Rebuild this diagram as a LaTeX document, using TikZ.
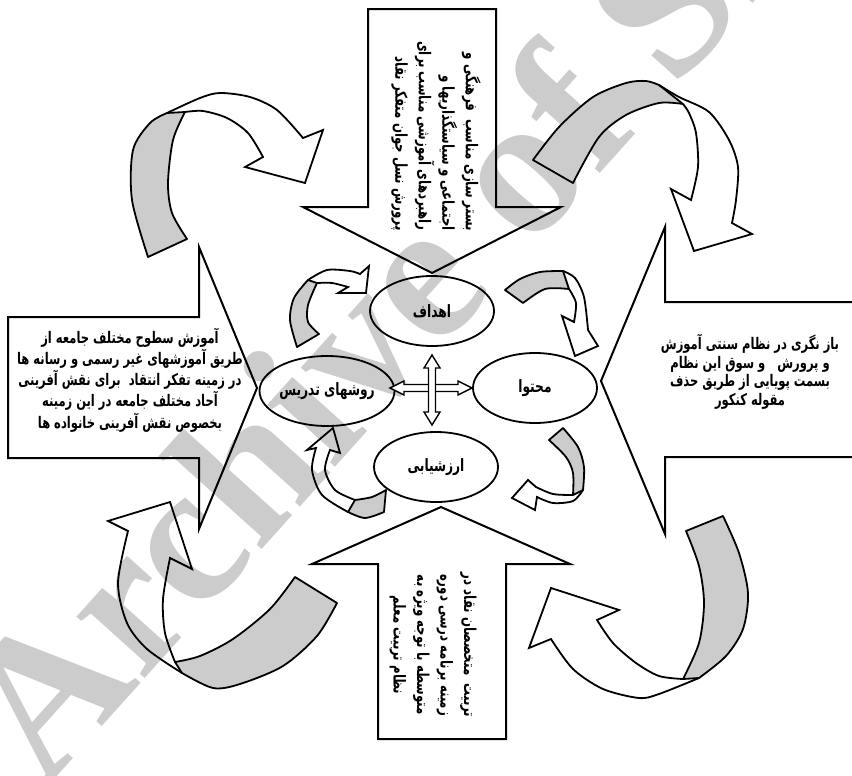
\documentclass[tikz,border=0pt]{standalone}
\usepackage{fontspec}
\newfontfamily\fafont[Script=Arabic, FakeStretch=0.72]{DejaVu Sans}
\newfontfamily\wmfont{Liberation Serif}
\TeXXeTstate=1
\newcommand{\fa}[1]{\beginR #1\endR}
\usetikzlibrary{shapes.geometric}
\tikzset{
  blockarrow/.style={draw, line width=1pt, line join=miter},
  ribbon/.style={draw, fill=black!20, line width=0.9pt, line join=round},
  ribbonhead/.style={draw, line width=0.9pt, line join=miter},
  part/.style={ellipse, draw, line width=0.9pt, minimum width=62pt, minimum height=35pt, inner sep=0pt, font=\fafont\bfseries\fontsize{8.5}{10}\selectfont},
  boxtext/.style={inner sep=0pt, font=\fafont\bfseries\fontsize{8}{9.25}\selectfont},
  sidetext/.style={inner sep=0pt, rotate=-90, font=\fafont\bfseries\fontsize{8.2}{11.75}\selectfont},
  hollow/.style={draw, fill=white, line width=0.7pt, line join=miter}
}
\begin{document}
\begin{tikzpicture}[x=0.5pt, y=-0.5pt]
\useasboundingbox (0,0) rectangle (852,776);
\node[rotate=48, anchor=base west, inner sep=0pt, text=black!20, font=\wmfont\bfseries\fontsize{100}{100}\selectfont] (mark) at (45,790) {Archive of SID};

\draw[blockarrow] (368,9) -- (496,9) -- (496,207) -- (561,207) -- (432,273) -- (303,207) -- (368,207) -- cycle;
\draw[blockarrow] (378,739) -- (506,739) -- (506,564) -- (570,564) -- (441,507) -- (312,564) -- (378,564) -- cycle;
\draw[blockarrow] (8,317) -- (199,317) -- (199,247) -- (257,388) -- (199,529) -- (199,458) -- (8,458) -- cycle;
\draw[blockarrow] (870,302) -- (665,302) -- (665,227) -- (601,381) -- (665,534) -- (665,457) -- (870,457);

\node[sidetext, align=right, anchor=east] (goaltext) at (436,231) {\fa{بستر سازی مناسب\ \ فرهنگی و}\\ \fa{اجتماعی و سیاستگذاریها و}\\ \fa{راهبردهای آموزشی مناسب برای}\\ \fa{پرورش نسل جوان متفکر نقاد}};
\node[sidetext, align=center] (teachtext) at (433,645) {\fa{تربیت\ \ متخصصان نقاد در}\\ \fa{زمینه برنامه درسی دوره}\\ \fa{متوسطه با توجه ویژه به}\\ \fa{نظام تربیت معلم}};
\node[boxtext, align=center] (societytext) at (130,380) {\fa{آموزش سطوح مختلف جامعه از}\\ \fa{طریق آموزشهای غیر رسمی و رسانه ها}\\ \fa{در زمینه تفکر انتقاد\ \ برای نقش آفرینی}\\ \fa{آحاد مختلف جامعه در این زمینه}\\ \fa{بخصوص نقش آفرینی خانواده ها}};
\node[boxtext, align=center] (konkurtext) at (750,372) {\fa{باز نگری در نظام سنتی آموزش}\\ \fa{و پرورش\ \ \ و سوق این نظام}\\ \fa{بسمت پویایی از طریق حذف}\\ \fa{مقوله کنکور}};

\node[part] (goals) at (432,311) {\fa{اهداف}};
\node[part] (content) at (535,388) {\fa{محتوا}};
\node[part] (methods) at (327,391) {\fa{روشهای تدریس}};
\node[part] (evaluation) at (436,467) {\fa{ارزشیابی}};

\draw[hollow] (390,388) -- (404,381) -- (404,384.5) -- (458,384.5) -- (458,381) -- (472,388) -- (458,395) -- (458,391.5) -- (404,391.5) -- (404,395) -- cycle;
\draw[hollow] (432,355) -- (440,368) -- (435.5,368) -- (435.5,412) -- (440,412) -- (432,425) -- (424,412) -- (428.5,412) -- (428.5,368) -- (424,368) -- cycle;

\filldraw[ribbon] plot[smooth] coordinates {(148,257) (132,200) (133,150) (150,123) (167,113)} -- (185,112) -- plot[smooth] coordinates {(185,112) (173,140) (168,183) (172,213) (187,239)} -- cycle;
\draw[ribbonhead] plot[smooth] coordinates {(167,113) (200,98) (220,93) (250,97) (277,110) (303,138)} -- (323,130) -- (305,183) -- (245,167) -- (263,157) -- plot[smooth] coordinates {(263,157) (248,133) (227,118) (203,111) (185,112)};

\filldraw[ribbon] plot[smooth] coordinates {(533,160) (559,127) (593,97) (626,83) (646,81) (659,85)} -- (683,104) -- plot[smooth] coordinates {(683,104) (659,103) (626,115) (599,137) (573,183)} -- cycle;
\draw[ribbonhead] plot[smooth] coordinates {(659,85) (679,97) (709,112) (729,140) (738,167) (736,200) (732,223)} -- (752,234) -- (694,251) -- (671,189) -- (691,200) -- plot[smooth] coordinates {(691,200) (698,167) (696,133) (689,113) (683,104)};

\filldraw[ribbon] plot[smooth] coordinates {(686,531) (699,566) (704,603) (699,643) (683,679)} -- (699,678) -- plot[smooth] coordinates {(699,678) (726,656) (743,629) (748,593) (739,553) (723,516)} -- cycle;
\draw[ribbonhead] plot[smooth] coordinates {(683,679) (659,676) (636,663) (613,643) (597,620)} -- (619,610) -- (551,588) -- (529,648) -- (551,639) -- plot[smooth] coordinates {(551,639) (573,669) (603,689) (639,698) (659,694) (699,678)};

\filldraw[ribbon] plot[smooth] coordinates {(295,577) (270,609) (233,639) (200,656) (175,662)} -- (182,673) -- plot[smooth] coordinates {(182,673) (213,688) (240,684) (283,666) (317,636) (337,603)} -- cycle;
\draw[ribbonhead] plot[smooth] coordinates {(182,673) (147,649) (127,623) (118,583) (128,531)} -- (108,521) -- (170,502) -- (192,569) -- (170,558) -- plot[smooth] coordinates {(170,558) (163,599) (165,633) (175,662)};

\filldraw[ribbon] plot[smooth] coordinates {(297,347) (290,320) (294,298) (308,280)} -- (317,283) -- plot[smooth] coordinates {(317,283) (308,305) (308,322) (319,334)} -- cycle;
\draw[ribbonhead] plot[smooth] coordinates {(308,280) (327,270) (350,271) (360,274)} -- (369,266) -- (366,293) -- (338,293) -- (348,287) -- plot[smooth] coordinates {(348,287) (332,283) (317,283)};

\filldraw[ribbon] plot[smooth] coordinates {(505,290) (520,279) (540,272) (563,271)} -- (569,289) -- plot[smooth] coordinates {(569,289) (545,289) (523,303)} -- cycle;
\draw[ribbonhead] plot[smooth] coordinates {(563,271) (575,278) (584,297) (588,330)} -- (598,346) -- (575,356) -- (562,316) -- (574,322) -- plot[smooth] coordinates {(574,322) (576,303) (569,289)};

\filldraw[ribbon] plot[smooth] coordinates {(563,428) (578,447) (584,467) (583,490)} -- (573,495) -- plot[smooth] coordinates {(573,495) (573,473) (566,457) (549,440)} -- cycle;
\draw[ribbonhead] plot[smooth] coordinates {(583,490) (573,501) (553,503) (537,497)} -- (535,510) -- (512,498) -- (528,480) -- (536,487) -- plot[smooth] coordinates {(536,487) (553,494) (573,495)};

\filldraw[ribbon] plot[smooth] coordinates {(355,500) (372,497) (386,490)} -- (384,512) -- plot[smooth] coordinates {(384,512) (365,518) (348,512)} -- cycle;
\draw[ribbonhead] plot[smooth] coordinates {(348,512) (322,495) (312,470) (316,448)} -- (307,450) -- (333,428) -- (340,453) -- (330,450) -- plot[smooth] coordinates {(330,450) (325,470) (335,490) (355,500)};
\end{tikzpicture}
\end{document}
